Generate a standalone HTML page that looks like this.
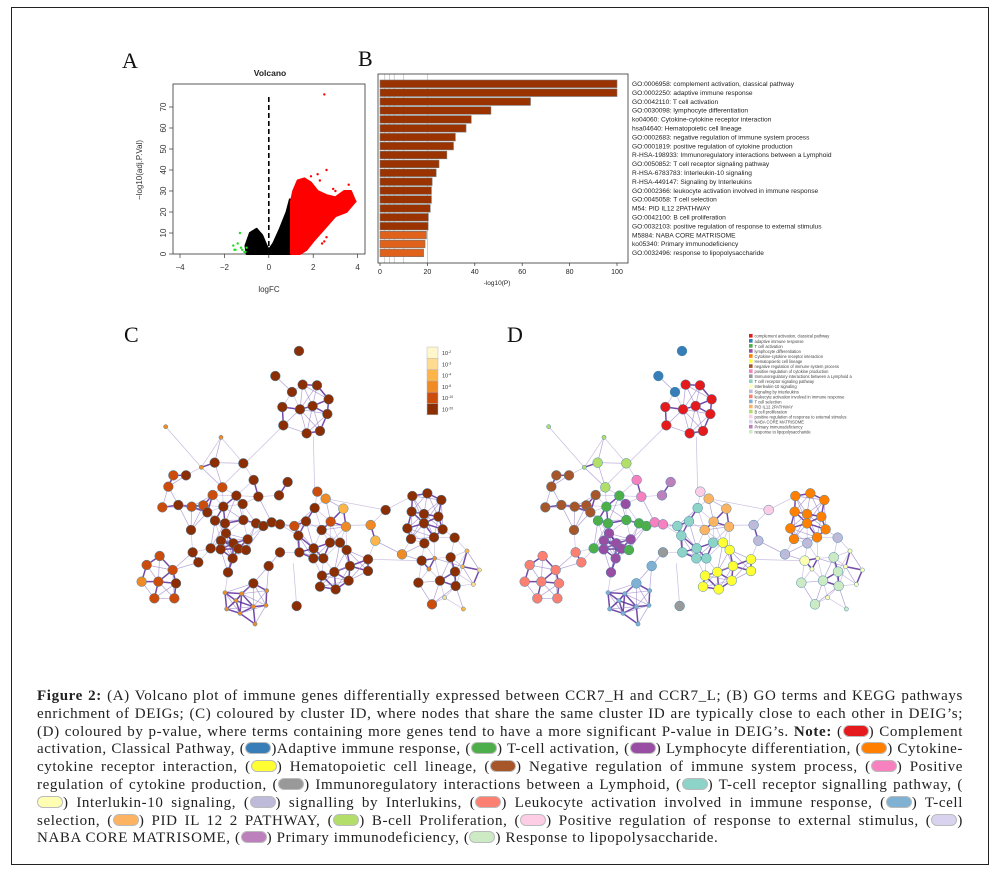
<!DOCTYPE html>
<html><head><meta charset="utf-8">
<style>
html,body{margin:0;padding:0;background:#fff;}
body{width:999px;height:876px;position:relative;overflow:hidden;font-family:"Liberation Sans",sans-serif;}
#frame{position:absolute;left:11px;top:7px;width:978px;height:858px;border:1px solid #222;box-sizing:border-box;}
#caption{position:absolute;left:37px;top:688px;width:926px;font-family:"Liberation Serif",serif;font-size:15px;line-height:17.8px;text-align:justify;color:#222;letter-spacing:0.62px;}
.pill{display:inline-block;width:26px;height:12px;border-radius:6px;vertical-align:-1px;border:1px solid #bbb;box-sizing:border-box;}
svg{position:absolute;left:0;top:0;}
</style></head><body>
<div id="frame"></div>
<svg id="fig" width="999" height="876"></svg>
<div id="caption"><b>Figure 2:</b> (A) Volcano plot of immune genes differentially expressed between CCR7_H and CCR7_L; (B) GO terms and KEGG pathways enrichment of DEIGs; (C) coloured by cluster ID, where nodes that share the same cluster ID are typically close to each other in DEIG’s; (D) coloured by p-value, where terms containing more genes tend to have a more significant P-value in DEIG’s. <b>Note:</b> (<span class="pill" style="background:#e41a1c"></span>) Complement activation, Classical Pathway, (<span class="pill" style="background:#377eb8"></span>)Adaptive immune response, (<span class="pill" style="background:#4daf4a"></span>) T-cell activation, (<span class="pill" style="background:#984ea3"></span>) Lymphocyte differentiation, (<span class="pill" style="background:#ff7f00"></span>) Cytokine-cytokine receptor interaction, (<span class="pill" style="background:#ffff33"></span>) Hematopoietic cell lineage, (<span class="pill" style="background:#a65628"></span>) Negative regulation of immune system process, (<span class="pill" style="background:#f781bf"></span>) Positive regulation of cytokine production, (<span class="pill" style="background:#999999"></span>) Immunoregulatory interactions between a Lymphoid, (<span class="pill" style="background:#8dd3c7"></span>) T-cell receptor signalling pathway, (<span class="pill" style="background:#ffffb3"></span>) Interlukin-10 signaling, (<span class="pill" style="background:#bebada"></span>) signalling by Interlukins, (<span class="pill" style="background:#fb8072"></span>) Leukocyte activation involved in immune response, (<span class="pill" style="background:#80b1d3"></span>) T-cell selection, (<span class="pill" style="background:#fdb462"></span>) PID IL 12 2 PATHWAY, (<span class="pill" style="background:#b3de69"></span>) B-cell Proliferation, (<span class="pill" style="background:#fccde5"></span>) Positive regulation of response to external stimulus, (<span class="pill" style="background:#d9d3f0"></span>) NABA CORE MATRISOME, (<span class="pill" style="background:#bc80bd"></span>) Primary immunodeficiency, (<span class="pill" style="background:#ccebc5"></span>) Response to lipopolysaccharide.</div>
<script>
// ---------- Volcano data ----------
const blackBlob=[[-1,0],[-1.05,4],[-0.85,10],[-0.55,12],[-0.3,9],[-0.1,4],[0,2],[0.2,5],[0.5,12],[0.8,20],[0.95,26],[1,0]];
const redBlob=[[1,0],[1,25],[1.1,30],[1.3,35],[1.6,36],[1.9,34],[2.2,30],[2.6,28],[3.0,27],[3.4,30],[3.7,30],[3.9,25],[3.5,20],[3.0,18],[2.5,12],[2.0,6],[1.7,2],[1.4,0]];
const redX=[2.4,2.5,2.6,3.0,2.6,2.2,3.6,2.5,3.9,2.9,2.3,1.9,3.3];
const redY=[5,6,8,30,40,38,33,76,25,31,35,37,27];
const greenX=[-1.6,-1.5,-1.3,-1.4,-1.2,-1.1,-1.0,-1.25,-1.55,-1.05];
const greenY=[4,2,10,5,2,1,3,3,2,1];
const volXTicks=[-4,-2,0,2,4];
const volYTicks=[0,10,20,30,40,50,60,70];
// ---------- Bar data ----------
const terms=["GO:0006958: complement activation, classical pathway","GO:0002250: adaptive immune response","GO:0042110: T cell activation","GO:0030098: lymphocyte differentiation","ko04060: Cytokine-cytokine receptor interaction","hsa04640: Hematopoietic cell lineage","GO:0002683: negative regulation of immune system process","GO:0001819: positive regulation of cytokine production","R-HSA-198933: Immunoregulatory interactions between a Lymphoid","GO:0050852: T cell receptor signaling pathway","R-HSA-6783783: Interleukin-10 signaling","R-HSA-449147: Signaling by Interleukins","GO:0002366: leukocyte activation involved in immune response","GO:0045058: T cell selection","M54: PID IL12 2PATHWAY","GO:0042100: B cell proliferation","GO:0032103: positive regulation of response to external stimulus","M5884: NABA CORE MATRISOME","ko05340: Primary immunodeficiency","GO:0032496: response to lipopolysaccharide"];
const pvals=[100,100,63.5,46.8,38.5,36.3,31.8,31.0,28.2,24.9,23.7,22.0,21.7,21.7,21.2,20.4,20.3,19.6,19.0,18.4];
const barXTicks=[0,20,40,60,80,100];
// ---------- Network data ----------
const clusterCols=["#e41a1c","#377eb8","#4daf4a","#984ea3","#ff7f00","#ffff33","#a65628","#f781bf","#999999","#8dd3c7","#ffffb3","#bebada","#fb8072","#80b1d3","#fdb462","#b3de69","#fccde5","#d9d3f0","#bc80bd","#ccebc5"];
const pLabels=["-2","-3","-4","-6","-10","-20"];
const pCols=["#fff7cc","#fedb8f","#fdb54a","#f08a24","#cc4c0c","#8b2e04"];
const nodes=[
[537,123,1,5,1],[466,198,1,5,1],[516,246,1,5,1],[548,224,1,5,0],[591,226,1,5,0],[626,268,1,5,0],[487,291,1,5,0],[540,298,1,5,0],[578,288,1,5,0],[622,312,1,5,0],[490,346,1,5,0],[560,370,1,5,0],[600,363,1,5,0],
[137,350,0,3,15],[303,382,0,3,15],[244,472,0,3,15],[284,458,1,5,15],[370,460,1,5,15],[307,532,1,4,15],
[160,496,1,4,6],[198,496,1,5,6],[145,530,1,4,6],[175,585,1,5,6],[127,592,1,4,6],[215,590,1,4,6],[250,586,1,4,6],[262,607,1,5,6],[278,555,1,4,6],[213,660,1,5,6],
[310,590,1,5,2],[349,557,1,5,2],[368,582,1,5,3],[285,632,1,5,2],[315,640,1,5,2],[370,630,1,5,2],[408,640,1,5,2],[430,648,1,5,2],[318,670,1,5,3],[303,692,1,5,3],[340,700,1,5,3],[383,688,1,5,3],[355,716,1,5,3],[338,745,1,5,3],[378,720,1,5,2],[272,715,1,5,2],[302,718,1,5,3],[324,787,1,5,3],
[401,510,1,5,7],[415,560,1,5,7],[455,637,1,5,7],[480,643,1,5,7],[503,516,1,5,18],[477,556,1,5,18],
[480,727,1,5,8],[530,888,1,5,8],
[119,738,1,4,12],[80,765,1,4,12],[158,780,1,4,12],[115,815,1,4,12],[65,815,1,3,12],[168,820,1,5,12],[103,865,1,4,12],[163,865,1,4,12],[218,727,1,5,12],[235,757,1,5,12],
[446,768,1,5,13],[400,820,1,5,13],[315,848,0,3,13],[365,851,0,3,13],[440,842,0,3,13],[320,897,0,3,13],[360,910,0,3,13],[405,942,0,3,13],[400,890,0,3,13],[438,886,0,3,13],[348,872,0,3,13],
[592,545,1,4,16],[617,566,1,3,14],[584,594,1,5,9],[558,634,1,5,9],[523,648,1,4,9],[535,677,1,5,9],[538,727,1,5,9],[581,715,1,5,9],[605,660,1,5,14],[632,635,1,4,14],[670,596,1,2,14],[678,650,1,3,14],[630,698,1,5,9],[660,698,1,5,5],[680,720,1,5,5],[610,745,1,5,9],[580,745,1,5,9],[643,786,1,5,5],[606,797,1,5,5],[690,768,1,5,5],[744,748,1,5,5],[744,783,1,5,5],[686,812,1,5,5],[647,838,1,5,5],[600,830,1,5,5],
[797,600,1,5,16],[752,645,1,3,11],[766,692,1,2,11],[846,733,1,3,11],
[877,558,1,5,4],[922,550,1,5,4],[964,570,1,5,4],[875,605,1,5,4],[912,612,1,5,4],[955,620,1,5,4],[862,655,1,5,4],[912,640,1,5,4],[968,658,1,5,4],[873,687,1,5,4],[942,682,1,5,4],[1004,683,1,5,11],
[913,700,1,5,11],[905,752,1,5,10],[944,745,0,3,10],[992,742,1,5,19],[1041,723,0,2,10],[927,777,0,3,10],[1028,770,0,2,10],[1078,780,0,1,10],[960,812,1,5,19],[1005,785,1,5,19],[1007,828,1,5,19],[1060,823,0,1,10],[895,818,1,5,19],[974,863,0,1,10],[936,883,1,4,19],[1030,897,0,2,19]
];
const longEdges=[[490,346,303,532],[580,380,584,545],[137,350,244,472],[797,600,617,566],[797,600,877,558],[846,733,905,752],[530,888,520,760],[303,382,244,472],[303,382,370,460],[744,748,905,752],[480,727,446,768],[430,648,523,648],[523,648,752,645]];
const legendNames=["complement activation, classical pathway","adaptive immune response","T cell activation","lymphocyte differentiation","Cytokine-cytokine receptor interaction","Hematopoietic cell lineage","negative regulation of immune system process","positive regulation of cytokine production","Immunoregulatory interactions between a Lymphoid a","T cell receptor signaling pathway","Interleukin-10 signaling","Signaling by Interleukins","leukocyte activation involved in immune response","T cell selection","PID IL12 2PATHWAY","B cell proliferation","positive regulation of response to external stimulus","NABA CORE MATRISOME","Primary immunodeficiency","response to lipopolysaccharide"];

const NS="http://www.w3.org/2000/svg";
const svg=document.getElementById('fig');
function el(tag,attrs,parent,text){const e=document.createElementNS(NS,tag);for(const k in attrs)e.setAttribute(k,attrs[k]);if(text!==undefined)e.textContent=text;(parent||svg).appendChild(e);return e;}
function txt(x,y,s,size,opts,parent){const o=Object.assign({x:x,y:y,'font-size':size,'font-family':'Liberation Sans, sans-serif',fill:'#222'},opts||{});return el('text',o,parent,s);}

[["A",122,68],["B",358,66],["C",124,342],["D",507,342]].forEach(p=>{
  const t=txt(p[1],p[2],p[0],22,{'font-family':'Liberation Serif, serif',fill:'#111'});
  
  
});

const gA=el('g',{});


const vx=v=>180+(v+4)*22.2, vy=v=>254-v*2.1;
el('rect',{x:173,y:84,width:192,height:170,fill:'none',stroke:'#333','stroke-width':0.8},gA);
const vt=txt(270,76,"Volcano",8.5,{'font-weight':'bold','text-anchor':'middle'},gA);


volXTicks.forEach(v=>{el('line',{x1:vx(v),x2:vx(v),y1:254,y2:258,stroke:'#333','stroke-width':0.7},gA);txt(vx(v),270,String(v).replace('-','−'),8,{'text-anchor':'middle',fill:'#333'},gA);});
volYTicks.forEach(v=>{el('line',{x1:169,x2:173,y1:vy(v),y2:vy(v),stroke:'#333','stroke-width':0.7},gA);txt(163,vy(v),String(v),8,{'text-anchor':'middle',fill:'#333',transform:`rotate(-90 163 ${vy(v)})`,dy:3},gA);});
const xl=txt(269,292,"logFC",8,{'text-anchor':'middle',fill:'#333'},gA);


const yl=txt(142,170,"−log10(adj.P.Val)",8,{'text-anchor':'middle',fill:'#333',transform:'rotate(-90 142 170)'},gA);


const pb=el('polygon',{points:blackBlob.map(p=>vx(p[0])+','+vy(p[1])).join(' '),fill:'#000',stroke:'#000','stroke-width':2,'stroke-linejoin':'round'},gA);


const pr=el('polygon',{points:redBlob.map(p=>vx(p[0])+','+vy(p[1])).join(' '),fill:'#f00',stroke:'#f00','stroke-width':2,'stroke-linejoin':'round'},gA);


redX.forEach((x,i)=>{const c=el('circle',{cx:vx(x),cy:vy(redY[i]),r:1.2,fill:'#f00'},gA);});
greenX.forEach((x,i)=>{const c=el('circle',{cx:vx(x),cy:vy(greenY[i]),r:1.2,fill:'#2d2'},gA);});
el('line',{x1:vx(0),x2:vx(0),y1:97,y2:254,stroke:'#000','stroke-width':1.6,'stroke-dasharray':'5 3'},gA);

const gB=el('g',{});


const bx=v=>380+v*2.37, bTop=80, pitch=8.9;
[2,4,6,10,20].forEach(v=>el('line',{x1:bx(v),x2:bx(v),y1:74,y2:263,stroke:'#bbb','stroke-width':0.7},gB));
pvals.forEach((v,i)=>{
  const r=el('rect',{x:bx(0),y:bTop+i*pitch,width:bx(v)-bx(0),height:7.6,fill:i<17?'#9a3300':'#e0621a',stroke:'#777','stroke-width':0.6},gB);
  
  
  const t=txt(632,bTop+i*pitch+6,terms[i],6.6,{fill:'#222'},gB);
  
  
});
el('rect',{x:378,y:74,width:250,height:189,fill:'none',stroke:'#333','stroke-width':0.8},gB);
barXTicks.forEach(v=>{el('line',{x1:bx(v),x2:bx(v),y1:263,y2:266,stroke:'#333','stroke-width':0.7},gB);txt(bx(v),274,String(v),7,{'text-anchor':'middle'},gB);});
const bt=txt(497,285,"-log10(P)",6.5,{'text-anchor':'middle'},gB);



function drawNet(offX,colorFn,name){
  const g=el('g',{});
  
  
  const P=nodes.map(n=>[n[0]/3+120+offX,n[1]/3+310,n]);
  for(let i=0;i<P.length;i++)for(let j=i+1;j<P.length;j++){
    const d=Math.hypot(P[i][0]-P[j][0],P[i][1]-P[j][1]);
    const same=P[i][2][4]===P[j][2][4];
    if(d<(same?30:24)){
      el('line',{x1:P[i][0],y1:P[i][1],x2:P[j][0],y2:P[j][1],stroke:same&&d<20?'#5a2a9a':'#a590cc','stroke-width':same&&d<20?1.5:0.7,'stroke-opacity':same?0.85:0.55},g);}
  }
  longEdges.forEach(e=>el('line',{x1:e[0]/3+120+offX,y1:e[1]/3+310,x2:e[2]/3+120+offX,y2:e[3]/3+310,stroke:'#a590cc','stroke-width':0.7,'stroke-opacity':0.6},g));
  P.forEach(p=>{const c=el('circle',{cx:p[0],cy:p[1],r:p[2][2]?4.9:2.1,fill:colorFn(p[2]),stroke:'#4a86a8','stroke-width':0.5},g);
    
    });
}
drawNet(0,n=>pCols[n[3]],'network-pvalue');
drawNet(383,n=>clusterCols[n[4]],'network-cluster');

const gLC=el('g',{});


pCols.forEach((c,i)=>{el('rect',{x:427,y:347+i*11.3,width:11,height:11.3,fill:c,stroke:'#bbb','stroke-width':0.5},gLC);
  const t=el('text',{x:442,y:355+i*11.3,'font-size':5.5,'font-family':'Liberation Sans, sans-serif',fill:'#333'},gLC);
  t.textContent='10';el('tspan',{dy:-2,'font-size':3.5},t,pLabels[i]);});
const gLD=el('g',{});


legendNames.forEach((nm,i)=>{el('rect',{x:749,y:334+i*5.05,width:3.6,height:3.6,fill:clusterCols[i]},gLD);
  txt(754.5,337.7+i*5.05,nm,4.1,{fill:'#444'},gLD);});
</script>
</body></html>
